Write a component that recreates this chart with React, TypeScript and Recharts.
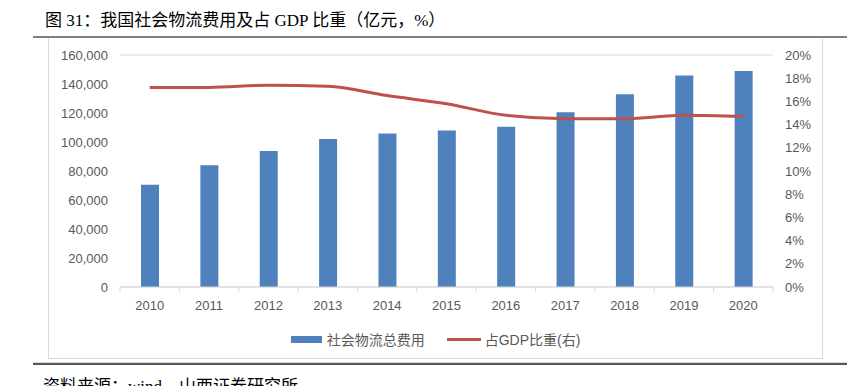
import { Bar, ComposedChart, Line, XAxis, YAxis, CartesianGrid, Legend } from "recharts"

const years = ["2010", "2011", "2012", "2013", "2014", "2015", "2016", "2017", "2018", "2019", "2020"]
// 社会物流总费用（亿元）
const totalCost = [70600, 84000, 93800, 102000, 105800, 107900, 110500, 120600, 132900, 145900, 149000]
// 占GDP比重（%）
const gdpShare = [17.2, 17.2, 17.4, 17.3, 16.5, 15.8, 14.8, 14.5, 14.5, 14.8, 14.7]
const leftTicks = [0, 20000, 40000, 60000, 80000, 100000, 120000, 140000, 160000]
const rightTicks = [0, 2, 4, 6, 8, 10, 12, 14, 16, 18, 20]

const data = years.map((year, i) => ({ year, cost: totalCost[i], share: gdpShare[i] }))

const CHART_W = 775
const CHART_H = 322
const LEFT_W = 72
const RIGHT_W = 50
const STEP = (CHART_W - LEFT_W - RIGHT_W) / years.length

const GRAY = "#595959"
const FONT = "'Liberation Sans', Arial, 'Noto Sans CJK SC', sans-serif"
const SERIF = "'Liberation Serif', 'Times New Roman', 'Noto Sans CJK SC', serif"

function YearTick(props: any) {
  const { x, y, payload, index } = props
  const axisY = y - 8
  return (
    <g>
      <line x1={x - STEP / 2} x2={x - STEP / 2} y1={axisY} y2={axisY + 5} stroke="#d9d9d9" />
      {index === years.length - 1 && (
        <line x1={x + STEP / 2} x2={x + STEP / 2} y1={axisY} y2={axisY + 5} stroke="#d9d9d9" />
      )}
      <text x={x} y={axisY + 23} textAnchor="middle" fill={GRAY} fontSize={13} fontFamily={FONT}>
        {payload.value}
      </text>
    </g>
  )
}

function LegendBox() {
  return (
    <div style={{ display: "flex", justifyContent: "center", alignItems: "center", fontSize: 14, color: GRAY, fontFamily: FONT }}>
      <span style={{ display: "inline-block", width: 31, height: 7, background: "#4f81bd", marginRight: 5 }} />
      <span style={{ marginRight: 22 }}>社会物流总费用</span>
      <span style={{ display: "inline-block", width: 34, height: 3, background: "#c0504d", marginRight: 4 }} />
      <span>占GDP比重(右)</span>
    </div>
  )
}

export default function App() {
  return (
    <div style={{ position: "absolute", left: 0, top: 0, width: 847, height: 386, background: "#fff", overflow: "hidden" }}>
      <div
        style={{
          position: "absolute",
          left: 45,
          top: 6,
          fontSize: 17,
          color: "#000",
          fontFamily: SERIF,
          whiteSpace: "nowrap",
        }}
      >
        图 31：我国社会物流费用及占 GDP 比重（亿元，%）
      </div>
      <div style={{ position: "absolute", left: 33, top: 36, width: 814, height: 2, background: "#7f7f7f" }} />
      <div
        style={{
          position: "absolute",
          left: 48,
          top: 38,
          width: CHART_W - 2,
          height: CHART_H - 2,
          border: "1px solid #d9d9d9",
          borderTop: "none",
        }}
      />
      <div style={{ position: "absolute", left: 48, top: 38 }}>
        <ComposedChart width={CHART_W} height={CHART_H} data={data} margin={{ top: 17, right: 0, left: 0, bottom: 11 }}>
          <CartesianGrid vertical={false} stroke="#d9d9d9" />
          <XAxis
            dataKey="year"
            height={42}
            tickLine={false}
            axisLine={{ stroke: "#d9d9d9" }}
            tick={<YearTick />}
            interval={0}
          />
          <YAxis
            yAxisId="left"
            width={LEFT_W}
            domain={[0, 160000]}
            ticks={leftTicks}
            tickLine={false}
            axisLine={false}
            tickFormatter={(v) => v.toLocaleString("en-US")}
            tick={{ fill: GRAY, fontSize: 13, fontFamily: FONT }}
            tickMargin={6}
          />
          <YAxis
            yAxisId="right"
            orientation="right"
            width={RIGHT_W}
            domain={[0, 20]}
            ticks={rightTicks}
            tickLine={false}
            axisLine={false}
            tickFormatter={(v) => `${v}%`}
            tick={{ fill: GRAY, fontSize: 13, fontFamily: FONT, textAnchor: "start" }}
            tickMargin={6}
          />
          <Legend verticalAlign="bottom" height={20} content={<LegendBox />} />
          <Bar yAxisId="left" dataKey="cost" fill="#4f81bd" barSize={18} isAnimationActive={false} />
          <Line
            yAxisId="right"
            type="monotone"
            dataKey="share"
            stroke="#c0504d"
            strokeWidth={3}
            dot={false}
            isAnimationActive={false}
          />
        </ComposedChart>
      </div>
      <div style={{ position: "absolute", left: 33, top: 362, width: 814, height: 1, background: "#d9d9d9" }} />
      <div style={{ position: "absolute", left: 33, top: 363, width: 814, height: 2, background: "#555" }} />
      <div
        style={{
          position: "absolute",
          left: 43,
          top: 372,
          fontSize: 17,
          color: "#000",
          fontFamily: SERIF,
          whiteSpace: "nowrap",
        }}
      >
        资料来源：wind，山西证券研究所
      </div>
    </div>
  )
}
